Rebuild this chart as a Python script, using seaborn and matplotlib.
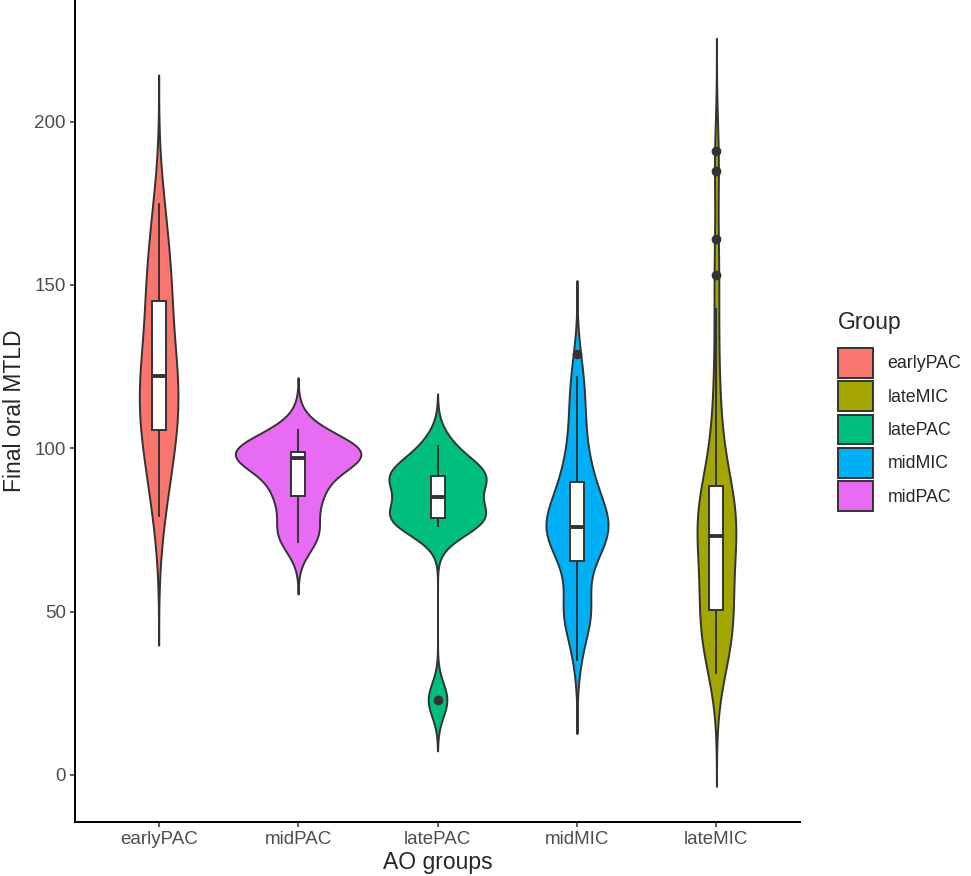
import numpy as np
import pandas as pd
import matplotlib
matplotlib.use("Agg")
import matplotlib.pyplot as plt
from matplotlib.patches import Patch
import seaborn as sns

# Groups: x axis order and legend (alphabetical) order
order = ["earlyPAC", "midPAC", "latePAC", "midMIC", "lateMIC"]
legend_order = ["earlyPAC", "lateMIC", "latePAC", "midMIC", "midPAC"]
colours = ["#F8766D", "#A3A500", "#00BF7D", "#00B0F6", "#E76BF3"]  # ggplot hue defaults

# Final oral MTLD per learner, estimated from the boxes and violins
early_pac = [79, 88, 95, 100, 104, 106, 110, 114, 118, 121,
             123, 126, 130, 138, 144, 148, 152, 158, 166, 175]
mid_pac = [71, 74, 77, 84, 86, 89, 94, 97, 97, 98, 98, 99, 99, 100, 102, 106]
late_pac = [23, 76, 78, 79, 79, 82, 88, 91, 91, 93, 94, 101]
mid_mic = [35, 40, 46, 48, 49, 50, 50, 51, 52, 56, 63, 64,
           65, 67, 69, 70, 71, 72, 73, 74, 75, 75, 76, 76,
           76, 76, 77, 78, 79, 80, 81, 82, 84, 85, 86, 88, 89,
           90, 92, 94, 96, 99, 102, 105, 108, 112, 116, 119, 122, 129]
late_mic = [31, 33, 35, 37, 39, 41, 42, 44, 45, 46, 47, 48, 49, 50,
            52, 54, 56, 58, 60, 62, 64, 65, 67, 68, 70, 71, 72,
            74, 75, 76, 77, 78, 79, 80, 81, 82, 83, 84, 86, 87,
            89, 91, 94, 97, 101, 106, 112, 120, 130, 143,
            153, 164, 185, 191]

groups = {"earlyPAC": early_pac, "midPAC": mid_pac, "latePAC": late_pac,
          "midMIC": mid_mic, "lateMIC": late_mic}
df = pd.concat([pd.DataFrame({"Group": g, "MTLD": v}) for g, v in groups.items()],
               ignore_index=True)
pal = dict(zip(legend_order, colours))


def nrd0(kde):
    # R's bw.nrd0 rule, returned as a scipy bandwidth factor
    x = kde.dataset[0]
    sd = np.std(x, ddof=1)
    q75, q25 = np.percentile(x, [75, 25])
    bw = 0.9 * min(sd, (q75 - q25) / 1.34) * len(x) ** -0.2
    return bw / sd


sns.set_style("ticks")
plt.rcParams["font.family"] = ["Liberation Sans", "DejaVu Sans"]

fig, ax = plt.subplots(figsize=(9.71, 8.76), dpi=100)
fig.subplots_adjust(left=0.0772, right=0.824, bottom=0.0616, top=1.0)

sns.violinplot(data=df, x="Group", y="MTLD", hue="Group", order=order,
               hue_order=legend_order, palette=pal,
               cut=3, bw_method=nrd0, gridsize=512, density_norm="area",
               common_norm=True, width=0.9, inner=None, linewidth=1.4,
               linecolor="#333333", saturation=1, legend=False, ax=ax)

sns.boxplot(data=df, x="Group", y="MTLD", order=order, width=0.1,
            color="white", linecolor="#333333", linewidth=1.4, saturation=1,
            showcaps=False, fliersize=6,
            medianprops=dict(linewidth=2.8),
            flierprops=dict(marker="o", markerfacecolor="#333333",
                            markeredgecolor="#333333"),
            ax=ax)

ax.set_xlim(-0.6, 4.6)
ax.set_ylim(-14.4, 237.2)
ax.set_yticks([0, 50, 100, 150, 200])
ax.set_xlabel("AO groups", fontsize=16.5, labelpad=2)
ax.set_ylabel("Final oral MTLD", fontsize=16.5, labelpad=6)
ax.tick_params(axis="both", labelsize=13.5, labelcolor="#4D4D4D",
               color="#333333", length=3.5, width=1.1, pad=3)
for s in ["left", "bottom"]:
    ax.spines[s].set_linewidth(1.4)
    ax.spines[s].set_color("black")
sns.despine(ax=ax)

handles = [Patch(facecolor=pal[g], edgecolor="#333333", linewidth=1.4, label=g)
           for g in legend_order]
leg = ax.legend(handles=handles, loc="center left", bbox_to_anchor=(1.042, 0.5),
                frameon=False, title="Group", fontsize=12.8, title_fontsize=16.5,
                handlelength=2.0, handleheight=2.2, labelspacing=0.2,
                handletextpad=0.8, borderaxespad=0, alignment="left")
leg._legend_box.sep = 10

fig.savefig("out.png", dpi=100)
